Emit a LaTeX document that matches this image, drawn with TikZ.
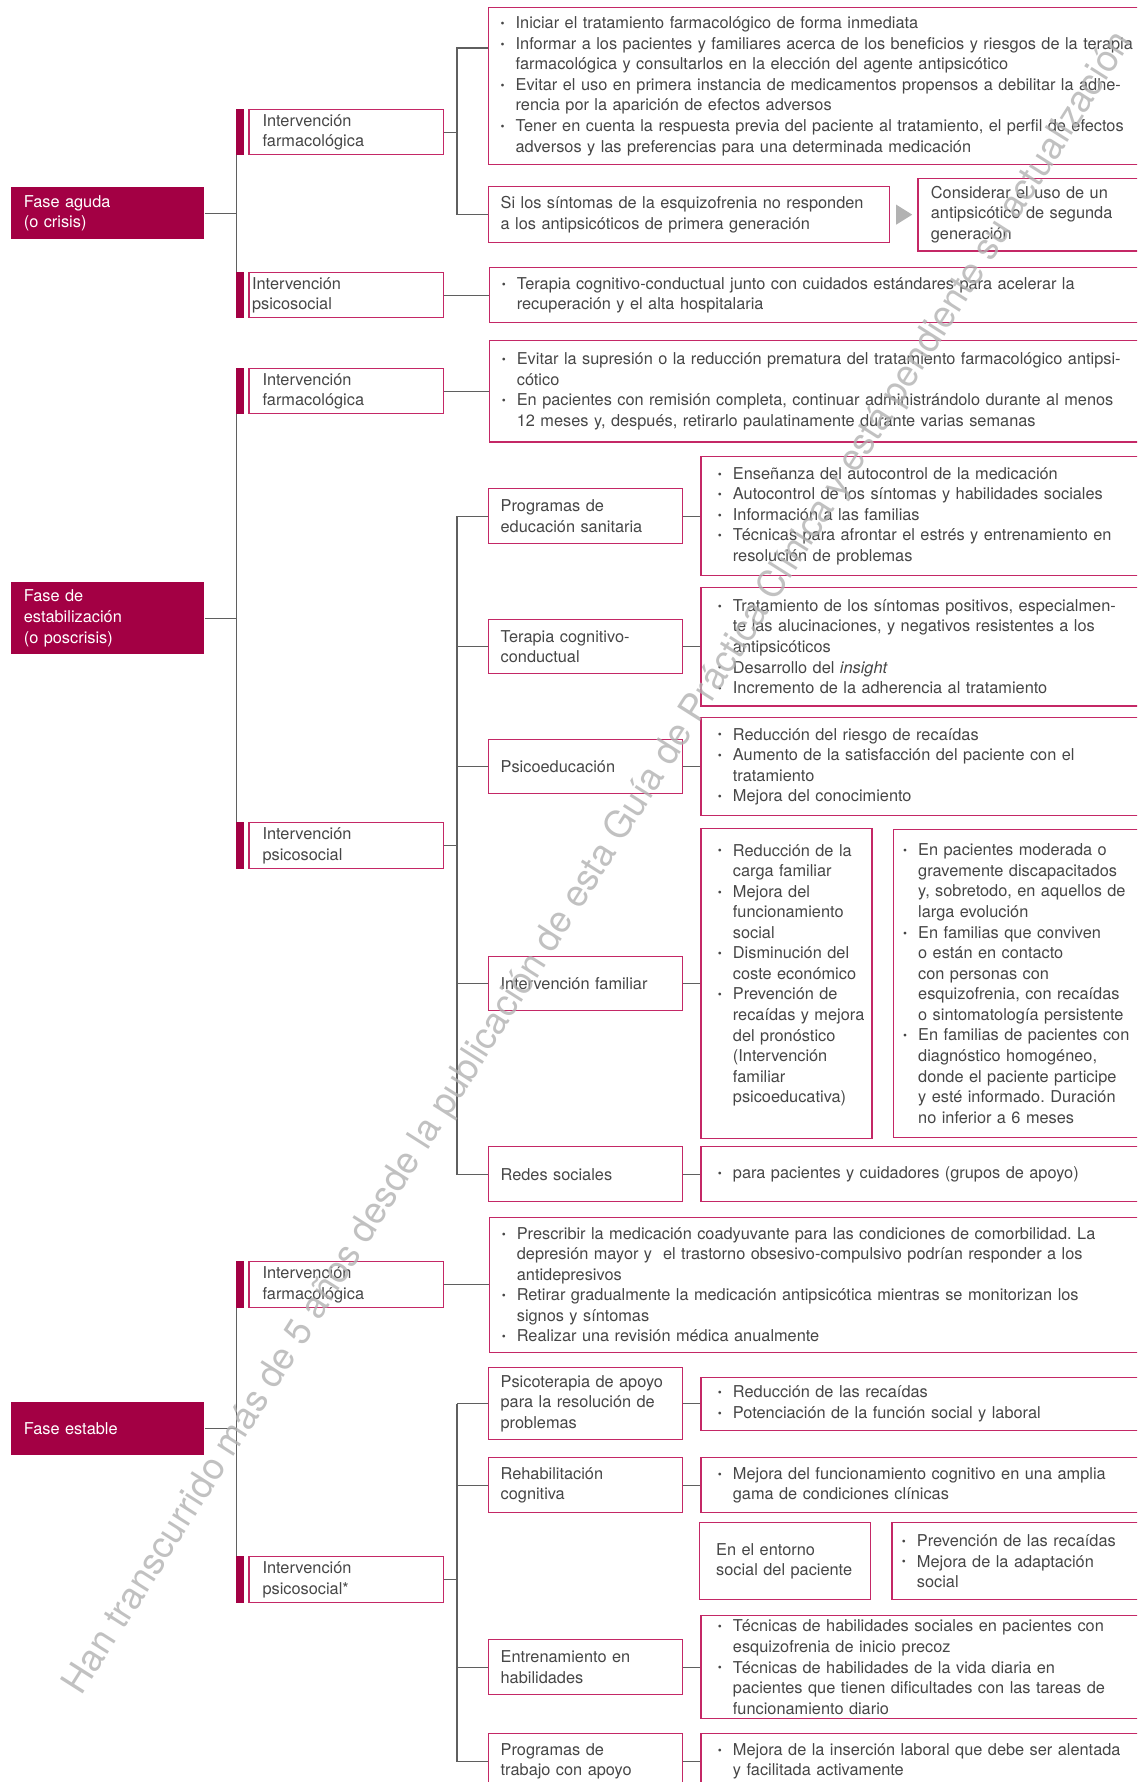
\documentclass[tikz,border=0pt]{standalone}
\usepackage{fontspec}
\setmainfont{TeX Gyre Heros}
\usepackage{xcolor}
\usetikzlibrary{positioning}

\definecolor{granate}{RGB}{163,0,68}
\definecolor{borde}{RGB}{196,40,102}
\definecolor{texto}{RGB}{70,70,70}
\definecolor{conector}{RGB}{95,95,95}

\newcommand{\pto}{\makebox[0.3cm][l]{\raisebox{0.6pt}{\fontsize{6.5}{6.5}\selectfont\textbullet}}}
\newcommand{\sig}{\hspace*{0.3cm}}
\frenchspacing

\begin{document}
\begin{tikzpicture}[
            x=0.02cm, y=-0.02cm,
            font=\fontsize{9.3}{11.7}\selectfont,
            caja/.style={rectangle, draw=borde, line width=0.75pt, text=texto, align=left, inner ysep=0pt,
                execute at begin node={\rightskip=-3cm plus 1fil\relax}},
            fase/.style={rectangle, fill=granate, text=white, align=left, anchor=north west,
                text width=3.36cm, inner xsep=0.25cm, inner ysep=0pt},
            inter/.style={caja, anchor=north west, text width=3.35cm, inner xsep=0.27cm},
            lista/.style={caja, text width=14.76cm, inner xsep=0.24cm},
            sub/.style={caja, anchor=north west, text width=3.4cm, inner xsep=0.24cm},
            detalle/.style={caja, text width=10.34cm, inner xsep=0.34cm},
            linea/.style={draw=conector, line width=0.65pt},
            marca/.style={text=black!30, text opacity=0.8, font=\fontsize{21}{21}\selectfont}
        ]
        \useasboundingbox (0,0) rectangle (1137,1782);
        \clip (0,0) rectangle (1137,1782);

        % Fase aguda
        \node[fase, minimum height=1.04cm] (faseA) at (11,187) {Fase aguda\\(o crisis)};
        \node[inter, minimum height=0.9cm] (farmA) at (248.4,109) {Intervención\\farmacológica};
        \node[inter, minimum height=0.9cm, text width=3.77cm, inner xsep=0.06cm] (psicoA) at (248.4,272) {Intervención\\psicosocial};
        \node[lista, anchor=north west, minimum height=3.14cm] (bulA) at (488,7) {\pto Iniciar el tratamiento farmacológico de forma inmediata\\
            \pto Informar a los pacientes y familiares acerca de los beneficios y riesgos de la terapia\\
            \sig farmacológica y consultarlos en la elección del agente antipsicótico\\
            \pto Evitar el uso en primera instancia de medicamentos propensos a debilitar la adhe-\\
            \sig rencia por la aparición de efectos adversos\\
            \pto Tener en cuenta la respuesta previa del paciente al tratamiento, el perfil de efectos\\
            \sig adversos y las preferencias para una determinada medicación};
        \node[caja, anchor=north west, text width=7.54cm, inner xsep=0.24cm, minimum height=1.12cm] (siA) at (488,186) {Si los síntomas de la esquizofrenia no responden\\a los antipsicóticos de primera generación};
        \node[caja, right=0.54cm of siA, text width=6.16cm, inner xsep=0.26cm, minimum height=1.46cm] (consA) {Considerar el uso de un\\antipsicótico de segunda\\generación};
        \node[lista, right=0.9cm of psicoA, minimum height=1.1cm] (bulA2) {\pto Terapia cognitivo-conductual junto con cuidados estándares para acelerar la\\
            \sig recuperación y el alta hospitalaria};

        % Fase de estabilizacion
        \node[fase, minimum height=1.44cm] (faseB) at (11,582) {Fase de\\estabilización\\(o poscrisis)};
        \node[inter, minimum height=0.9cm] (farmB) at (248.4,368) {Intervención\\farmacológica};
        \node[inter, minimum height=0.92cm] (psicoB) at (248.4,822) {Intervención\\psicosocial};
        \node[lista, right=0.9cm of farmB, minimum height=2.04cm] (bulB) {\pto Evitar la supresión o la reducción prematura del tratamiento farmacológico antipsi-\\
            \sig cótico\\
            \pto En pacientes con remisión completa, continuar administrándolo durante al menos\\
            \sig 12 meses y, después, retirarlo paulatinamente durante varias semanas};
        \node[sub, minimum height=1.1cm] (eduB) at (488,488) {Programas de\\educación sanitaria};
        \node[sub, minimum height=1.08cm] (tccB) at (488,619) {Terapia cognitivo-\\conductual};
        \node[sub, minimum height=1.08cm] (pedB) at (488,739) {Psicoeducación};
        \node[sub, minimum height=1.08cm] (famB) at (488,956) {Intervención familiar};
        \node[sub, minimum height=1.1cm] (redB) at (488,1146) {Redes sociales};
        \node[detalle, right=0.34cm of eduB, minimum height=2.38cm] (ensB) {\pto Enseñanza del autocontrol de la medicación\\
            \pto Autocontrol de los síntomas y habilidades sociales\\
            \pto Información a las familias\\
            \pto Técnicas para afrontar el estrés y entrenamiento en\\
            \sig resolución de problemas};
        \node[detalle, right=0.34cm of tccB, minimum height=2.38cm] (tratB) {\pto Tratamiento de los síntomas positivos, especialmen-\\
            \sig te las alucinaciones, y negativos resistentes a los\\
            \sig antipsicóticos\\
            \pto Desarrollo del \textit{insight}\\
            \pto Incremento de la adherencia al tratamiento};
        \node[detalle, right=0.34cm of pedB, minimum height=1.96cm] (riesB) {\pto Reducción del riesgo de recaídas\\
            \pto Aumento de la satisfacción del paciente con el\\
            \sig tratamiento\\
            \pto Mejora del conocimiento};
        \node[caja, right=0.34cm of famB, text width=2.74cm, inner xsep=0.34cm, minimum height=6.2cm] (cargaB) {\pto Reducción de la\\
            \sig carga familiar\\
            \pto Mejora del\\
            \sig funcionamiento\\
            \sig social\\
            \pto Disminución del\\
            \sig coste económico\\
            \pto Prevención de\\
            \sig recaídas y mejora\\
            \sig del pronóstico\\
            \sig (Intervención\\
            \sig familiar\\
            \sig psicoeducativa)\\
            \mbox{}};
        \node[caja, right=0.4cm of cargaB, text width=6.8cm, inner xsep=0.2cm, minimum height=6.16cm] (pacB) {\pto En pacientes moderada o\\
            \sig gravemente discapacitados\\
            \sig y, sobretodo, en aquellos de\\
            \sig larga evolución\\
            \pto En familias que conviven\\
            \sig o están en contacto\\
            \sig con personas con\\
            \sig esquizofrenia, con recaídas\\
            \sig o sintomatología persistente\\
            \pto En familias de pacientes con\\
            \sig diagnóstico homogéneo,\\
            \sig donde el paciente participe\\
            \sig y esté informado. Duración\\
            \sig no inferior a 6 meses};
        \node[detalle, right=0.34cm of redB, minimum height=1.1cm] (apoyoB) {\pto para pacientes y cuidadores (grupos de apoyo)};

        % Fase estable
        \node[fase, minimum height=1.06cm] (faseC) at (11,1402) {Fase estable};
        \node[inter, minimum height=0.92cm] (farmC) at (248.4,1261) {Intervención\\farmacológica};
        \node[inter, minimum height=0.92cm] (psicoC) at (248.4,1556) {Intervención\\psicosocial*};
        \node[lista, right=0.9cm of farmC, minimum height=2.7cm] (bulC) {\pto Prescribir la medicación coadyuvante para las condiciones de comorbilidad. La\\
            \sig depresión mayor y\ \ el trastorno obsesivo-compulsivo podrían responder a los\\
            \sig antidepresivos\\
            \pto Retirar gradualmente la medicación antipsicótica mientras se monitorizan los\\
            \sig signos y síntomas\\
            \pto Realizar una revisión médica anualmente};
        \node[sub, minimum height=1.44cm] (apoC) at (488,1367) {Psicoterapia de apoyo\\para la resolución de\\problemas};
        \node[sub, minimum height=1.1cm] (rehC) at (488,1457) {Rehabilitación\\cognitiva};
        \node[sub, minimum height=1.1cm] (entC) at (488,1639) {Entrenamiento en\\habilidades};
        \node[sub, minimum height=1.1cm] (trabC) at (488,1733) {Programas de\\trabajo con apoyo};
        \node[detalle, right=0.34cm of apoC, minimum height=1.06cm] (recC) {\pto Reducción de las recaídas\\
            \pto Potenciación de la función social y laboral};
        \node[detalle, right=0.34cm of rehC, minimum height=1.1cm] (cogC) {\pto Mejora del funcionamiento cognitivo en una amplia\\
            \sig gama de condiciones clínicas};
        \node[caja, anchor=north west, text width=2.76cm, inner xsep=0.33cm, minimum height=1.54cm] (entornoC) at (699,1522) {En el entorno\\social del paciente};
        \node[caja, right=0.4cm of entornoC, text width=6.8cm, inner xsep=0.2cm, minimum height=1.54cm] (adapC) {\pto Prevención de las recaídas\\
            \pto Mejora de la adaptación\\
            \sig social};
        \node[detalle, right=0.34cm of entC, minimum height=2.06cm] (habC) {\pto Técnicas de habilidades sociales en pacientes con\\
            \sig esquizofrenia de inicio precoz\\
            \pto Técnicas de habilidades de la vida diaria en\\
            \sig pacientes que tienen dificultades con las tareas de\\
            \sig funcionamiento diario};
        \node[detalle, right=0.34cm of trabC, minimum height=1.1cm] (labC) {\pto Mejora de la inserción laboral que debe ser alentada\\
            \sig y facilitada activamente};

        % Barras
        \foreach \n in {farmA,psicoA,farmB,psicoB,farmC,psicoC}
            \fill[granate] ([xshift=-0.24cm]\n.north west) rectangle ([xshift=-0.09cm]\n.south west);

        % Troncos
        \draw[linea] ([xshift=-0.24cm]farmA.south west) -- ([xshift=-0.24cm]psicoA.north west);
        \draw[linea] ([xshift=-0.24cm]farmB.south west) -- ([xshift=-0.24cm]psicoB.north west);
        \draw[linea] ([xshift=-0.24cm]farmC.south west) -- ([xshift=-0.24cm]psicoC.north west);
        \draw[linea] (faseA.east) -- ([xshift=-0.24cm]farmA.west |- faseA.east);
        \draw[linea] (faseB.east) -- ([xshift=-0.24cm]farmB.west |- faseB.east);
        \draw[linea] (faseC.east) -- ([xshift=-0.24cm]farmC.west |- faseC.east);

        % Conexiones
        \coordinate (cA) at (457,48);
        \draw[linea] (farmA.east) -- (farmA.east -| cA);
        \draw[linea] (bulA.west |- cA) -- (cA) |- (siA.west);
        \draw[linea] (psicoA.east) -- (bulA2.west);
        \draw[linea] (farmB.east) -- (bulB.west);
        \draw[linea] (farmC.east) -- (bulC.west);
        \fill[black!30] ([xshift=0.12cm,yshift=0.2cm]siA.east) -- ([xshift=0.44cm]siA.east) -- ([xshift=0.12cm,yshift=-0.2cm]siA.east) -- cycle;

        \draw[linea] (psicoB.east) -- ++(0.28cm,0);
        \draw[linea] ([xshift=-0.62cm]eduB.west) |- (redB.west);
        \foreach \n in {eduB,tccB,pedB,famB}
            \draw[linea] (\n.west) -- ++(-0.62cm,0);
        \foreach \a/\b in {eduB/ensB, tccB/tratB, pedB/riesB, famB/cargaB, redB/apoyoB}
            \draw[linea] (\a.east) -- (\b.west);

        \draw[linea] (psicoC.east) -- ++(0.28cm,0);
        \draw[linea] ([xshift=-0.62cm]apoC.west) |- (trabC.west);
        \foreach \n in {apoC,rehC,entC}
            \draw[linea] (\n.west) -- ++(-0.62cm,0);
        \foreach \a/\b in {apoC/recC, rehC/cogC, entC/habC, trabC/labC}
            \draw[linea] (\a.east) -- (\b.west);

        % Marca de agua
        \node[marca, rotate=57.6, anchor=base west] (marca) at (78,1702) {Han transcurrido más de 5 años desde la publicación de esta Guía de Práctica Clínica y está pendiente su actualización};

    \end{tikzpicture}
\end{document}
